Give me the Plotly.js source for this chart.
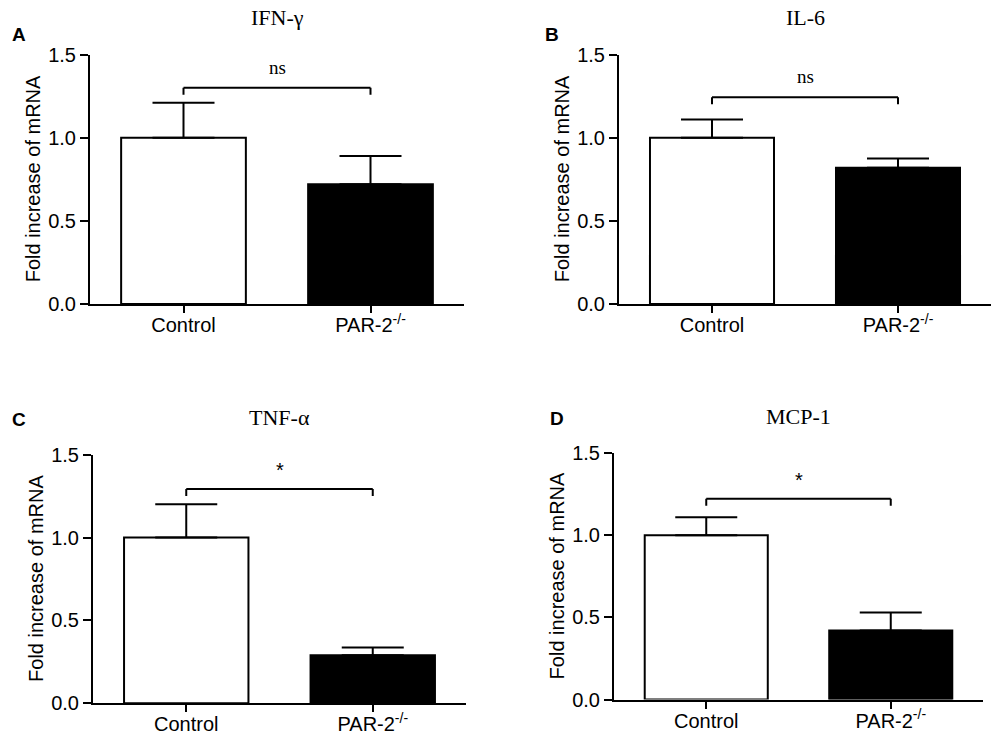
<!DOCTYPE html>
<html>
<head>
<meta charset="utf-8">
<script src="https://cdn.plot.ly/plotly-3.0.1.min.js"></script>
<style>
  html, body { margin: 0; padding: 0; background: #fff; }
  #chart { width: 1000px; height: 738px; }
</style>
</head>
<body>
<div id="chart"></div>
<script>
// mRNA fold change, Control vs PAR-2 knockout, four cytokines

const panelTitles = ["IFN-γ", "IL-6", "TNF-α", "MCP-1"];
const panelLetters = ["A", "B", "C", "D"];
const groups = ["Control", "PAR-2<sup>-/-</sup>"];

const controlMean = [1.0, 1.0, 1.0, 1.0];
const controlSem = [0.21, 0.11, 0.20, 0.11];
const knockoutMean = [0.72, 0.82, 0.29, 0.42];
const knockoutSem = [0.17, 0.055, 0.046, 0.11];

const sigLabels = ["ns", "ns", "*", "*"];
const bracketLevel = [1.30, 1.243, 1.293, 1.222];
const bracketDrop = 0.042;

const yTicks = [0, 0.5, 1.0, 1.5];

// layout of the 2x2 grid (paper fractions)
const PANELS = [
  { x: [0.090, 0.464], y: [0.588, 0.926], letter: [0.010, 0.9526] },
  { x: [0.619, 0.991], y: [0.588, 0.926], letter: [0.543, 0.9526] },
  { x: [0.093, 0.466], y: [0.047, 0.384], letter: [0.010, 0.4322] },
  { x: [0.614, 0.983], y: [0.052, 0.386], letter: [0.548, 0.4336] },
];

const SANS = '"Liberation Sans", Arial, sans-serif';
const SERIF = '"Liberation Serif", "Times New Roman", serif';
const INK = "#000";

const traces = [];
const shapes = [];
const annotations = [];
const layout = {
  width: 1000,
  height: 738,
  margin: { l: 0, r: 0, t: 0, b: 0 },
  paper_bgcolor: "#fff",
  plot_bgcolor: "#fff",
  showlegend: false,
  font: { family: SANS, size: 20, color: INK },
  bargap: 0.333,
};

PANELS.forEach((p, i) => {
  const n = i === 0 ? "" : String(i + 1);
  const xa = "x" + n;
  const ya = "y" + n;

  traces.push({
    type: "bar",
    x: groups,
    y: [controlMean[i], knockoutMean[i]],
    xaxis: xa,
    yaxis: ya,
    width: 0.667,
    marker: { color: ["#fff", INK], line: { color: INK, width: 2 } },
    error_y: {
      type: "data",
      symmetric: false,
      array: [controlSem[i], knockoutSem[i]],
      arrayminus: [0, 0],
      color: INK,
      thickness: 2,
      width: 31,
    },
    cliponaxis: false,
    hoverinfo: "skip",
  });

  layout["xaxis" + n] = {
    domain: p.x,
    anchor: ya,
    type: "category",
    range: [-0.5, 1.5],
    showline: true,
    linecolor: INK,
    linewidth: 2,
    ticks: "outside",
    ticklen: 7,
    tickwidth: 2,
    tickcolor: INK,
    ticklabelstandoff: -5,
    showgrid: false,
    zeroline: false,
    tickfont: { family: SANS, size: 20, color: INK },
    fixedrange: true,
  };
  layout["yaxis" + n] = {
    domain: p.y,
    anchor: xa,
    range: [0, 1.5],
    tickvals: yTicks,
    tickformat: ".1f",
    showline: true,
    linecolor: INK,
    linewidth: 2,
    ticks: "outside",
    ticklen: 8,
    tickwidth: 2,
    tickcolor: INK,
    showgrid: false,
    zeroline: false,
    tickfont: { family: SANS, size: 20, color: INK },
    fixedrange: true,
  };

  // significance bracket
  const top = bracketLevel[i];
  const seg = (x0, y0, x1, y1) => ({
    type: "line", xref: xa, yref: ya, x0, y0, x1, y1,
    line: { color: INK, width: 2 },
  });
  shapes.push(seg(0, top - bracketDrop, 0, top));
  shapes.push(seg(0, top, 1, top));
  shapes.push(seg(1, top, 1, top - bracketDrop));

  const star = sigLabels[i] === "*";
  annotations.push({
    xref: xa, yref: ya, x: 0.5, y: top,
    text: sigLabels[i],
    showarrow: false,
    yanchor: "bottom",
    yshift: star ? 6 : 8,
    font: { family: star ? SANS : SERIF, size: star ? 20 : 19, color: INK },
  });

  // panel title
  annotations.push({
    xref: xa + " domain", yref: ya + " domain", x: 0.5, y: 1,
    yshift: 37, yanchor: "middle", xanchor: "center",
    text: panelTitles[i],
    showarrow: false,
    font: { family: SERIF, size: 22, color: INK },
  });

  // y axis title
  annotations.push({
    xref: xa + " domain", yref: ya + " domain", x: 0, y: 0.5,
    xshift: -57, xanchor: "center", yanchor: "middle",
    textangle: -90,
    text: "Fold increase of mRNA",
    showarrow: false,
    font: { family: SANS, size: 20, color: INK },
  });

  // panel letter
  annotations.push({
    xref: "paper", yref: "paper", x: p.letter[0], y: p.letter[1],
    xanchor: "left", yanchor: "middle",
    text: "<b>" + panelLetters[i] + "</b>",
    showarrow: false,
    font: { family: SANS, size: 19, color: INK },
  });
});

layout.shapes = shapes;
layout.annotations = annotations;

Plotly.newPlot("chart", traces, layout, { displayModeBar: false, staticPlot: true });
</script>
</body>
</html>
